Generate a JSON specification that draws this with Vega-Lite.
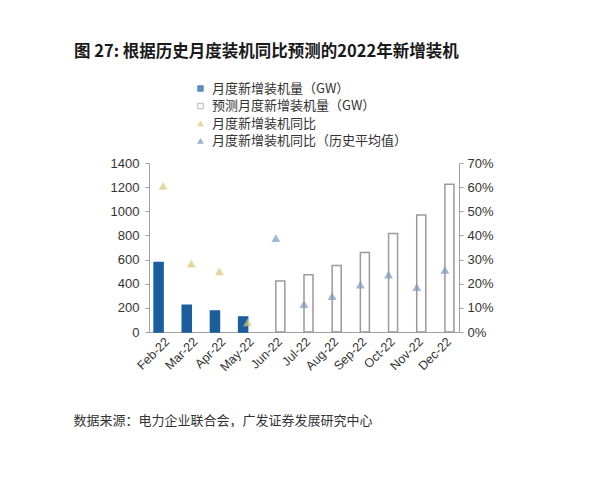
{
  "$schema": "https://vega.github.io/schema/vega-lite/v6.json",
  "autosize": "none",
  "width": 310,
  "height": 169,
  "padding": {"left": 149, "top": 163, "right": 141, "bottom": 148},
  "background": "white",
  "title": {
    "text": "图 27: 根据历史月度装机同比预测的2022年新增装机",
    "anchor": "start",
    "frame": "group",
    "font": "Noto Sans CJK SC",
    "fontSize": 16.5,
    "fontWeight": "bold",
    "color": "#1a1a1a",
    "dx": -75,
    "offset": 9,
    "baseline": "alphabetic"
  },
  "config": {
    "view": {"stroke": null},
    "axis": {"labelFont": "Liberation Sans", "labelFontSize": 13, "labelColor": "#333", "domainColor": "#a0a0a0", "tickColor": "#a0a0a0", "grid": false, "tickSize": 4},
    "legend": {"labelFont": "Noto Sans CJK SC", "labelFontSize": 13, "labelColor": "#333", "symbolSize": 30, "rowPadding": 3.5, "padding": 0, "labelOffset": 5, "symbolStrokeWidth": 1, "labelLimit": 0}
  },
  "data": {
    "values": [
      {"month": "Feb-22", "gw": 575, "series": "月度新增装机量（GW）"},
      {"month": "Mar-22", "gw": 222, "series": "月度新增装机量（GW）"},
      {"month": "Apr-22", "gw": 174, "series": "月度新增装机量（GW）"},
      {"month": "May-22", "gw": 125, "series": "月度新增装机量（GW）"},
      {"month": "Jun-22", "gw": 422, "series": "预测月度新增装机量（GW）"},
      {"month": "Jul-22", "gw": 475, "series": "预测月度新增装机量（GW）"},
      {"month": "Aug-22", "gw": 550, "series": "预测月度新增装机量（GW）"},
      {"month": "Sep-22", "gw": 658, "series": "预测月度新增装机量（GW）"},
      {"month": "Oct-22", "gw": 815, "series": "预测月度新增装机量（GW）"},
      {"month": "Nov-22", "gw": 969, "series": "预测月度新增装机量（GW）"},
      {"month": "Dec-22", "gw": 1224, "series": "预测月度新增装机量（GW）"},
      {"month": "Feb-22", "yoy": 0.605, "series": "月度新增装机同比"},
      {"month": "Mar-22", "yoy": 0.283, "series": "月度新增装机同比"},
      {"month": "Apr-22", "yoy": 0.251, "series": "月度新增装机同比"},
      {"month": "May-22", "yoy": 0.04, "series": "月度新增装机同比"},
      {"month": "Jun-22", "yoy": 0.389, "series": "月度新增装机同比（历史平均值）"},
      {"month": "Jul-22", "yoy": 0.115, "series": "月度新增装机同比（历史平均值）"},
      {"month": "Aug-22", "yoy": 0.149, "series": "月度新增装机同比（历史平均值）"},
      {"month": "Sep-22", "yoy": 0.196, "series": "月度新增装机同比（历史平均值）"},
      {"month": "Oct-22", "yoy": 0.238, "series": "月度新增装机同比（历史平均值）"},
      {"month": "Nov-22", "yoy": 0.186, "series": "月度新增装机同比（历史平均值）"},
      {"month": "Dec-22", "yoy": 0.257, "series": "月度新增装机同比（历史平均值）"}
    ]
  },
  "encoding": {
    "x": {
      "field": "month",
      "type": "nominal",
      "sort": null,
      "scale": {"paddingInner": 0.36, "paddingOuter": 0.18},
      "axis": {
        "labelAngle": -45,
        "labelAlign": "right",
        "labelBaseline": "top",
        "labelFontSize": 12.5,
        "ticks": false,
        "labelPadding": 3,
        "title": "数据来源：电力企业联合会，广发证券发展研究中心",
        "titleFont": "Noto Sans CJK SC",
        "titleFontSize": 13,
        "titleFontWeight": "normal",
        "titleColor": "#333",
        "titleAnchor": "start",
        "titleAlign": "left",
        "titleBaseline": "alphabetic",
        "titleX": -76,
        "titleY": 92
      }
    },
    "fill": {
      "field": "series",
      "type": "nominal",
      "scale": {
        "domain": ["月度新增装机量（GW）", "预测月度新增装机量（GW）", "月度新增装机同比", "月度新增装机同比（历史平均值）"],
        "range": ["#1B5E9E", "#ffffff", "#DCC67A", "#7E98BC"]
      },
      "legend": {"orient": "none", "legendX": 45, "legendY": -81, "title": null}
    },
    "stroke": {
      "field": "series",
      "type": "nominal",
      "scale": {
        "domain": ["月度新增装机量（GW）", "预测月度新增装机量（GW）", "月度新增装机同比", "月度新增装机同比（历史平均值）"],
        "range": ["#1B5E9E", "#9a9a9a", "#DCC67A", "#7E98BC"]
      },
      "legend": {"orient": "none", "legendX": 45, "legendY": -81, "title": null}
    }
  },
  "layer": [
    {
      "transform": [{"filter": "isValid(datum.gw)"}],
      "mark": {"type": "bar", "strokeWidth": 1.5},
      "encoding": {
        "xOffset": {"field": "series", "type": "nominal", "scale": {"domain": ["月度新增装机量（GW）", "预测月度新增装机量（GW）"], "paddingInner": 0}},
        "y": {
          "field": "gw",
          "type": "quantitative",
          "scale": {"domain": [0, 1400]},
          "axis": {"values": [0, 200, 400, 600, 800, 1000, 1200, 1400], "format": "d", "title": null, "labelPadding": 6}
        }
      }
    },
    {
      "transform": [{"filter": "isValid(datum.yoy)"}],
      "mark": {"type": "point", "filled": true, "size": 80, "strokeWidth": 0},
      "encoding": {
        "y": {
          "field": "yoy",
          "type": "quantitative",
          "scale": {"domain": [0, 0.7]},
          "axis": {"orient": "right", "format": ".0%", "values": [0, 0.1, 0.2, 0.3, 0.4, 0.5, 0.6, 0.7], "title": null, "labelPadding": 4}
        },
        "shape": {
          "field": "series",
          "type": "nominal",
          "scale": {
            "domain": ["月度新增装机量（GW）", "预测月度新增装机量（GW）", "月度新增装机同比", "月度新增装机同比（历史平均值）"],
            "range": ["square", "square", "triangle-up", "triangle-up"]
          },
          "legend": {"orient": "none", "legendX": 45, "legendY": -81, "title": null}
        }
      }
    }
  ],
  "resolve": {"scale": {"y": "independent"}}
}
